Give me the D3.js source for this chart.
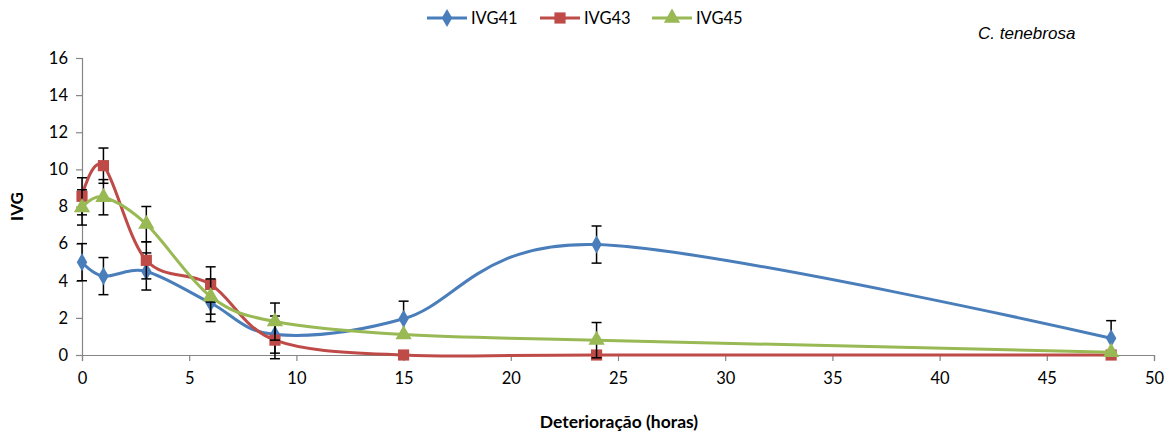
<!DOCTYPE html>
<html><head><meta charset="utf-8">
<script src="https://cdn.jsdelivr.net/npm/d3@7"></script>
<style>body{margin:0;background:#fff}svg{display:block}</style>
</head><body>
<svg id="c" width="1173" height="440"></svg>
<script>
const hours = [0, 1, 3, 6, 9, 15, 24, 48];
const ivg41 = [5.0, 4.25, 4.5, 2.8, 1.1, 1.95, 5.95, 0.9];
const ivg41Err = [1.0, 1.0, 1.0, 1.0, 1.0, 0.95, 1.0, 0.95];
const ivg43 = [8.55, 10.2, 5.1, 3.8, 0.8, 0.0, 0.0, 0.0];
const ivg43Err = [1.0, 0.95, 1.0, 0.95, 1.0, 0, 0, 0];
const ivg45 = [7.95, 8.5, 7.05, 3.15, 1.8, 1.1, 0.8, 0.15];
const ivg45Err = [0.95, 0.95, 0.95, 0.95, 1.0, 0, 0.95, 0];
const seriesNames = ["IVG41", "IVG43", "IVG45"];
const xTicks = [0, 5, 10, 15, 20, 25, 30, 35, 40, 45, 50];
const yTicks = [0, 2, 4, 6, 8, 10, 12, 14, 16];

const colors = ["#4a7ebb", "#be4b48", "#98b954"];
const shapes = [d3.symbolDiamond, d3.symbolSquare, d3.symbolTriangle];
const symSizes = [95, 125, 115];
const series = [
  {name: seriesNames[0], vals: ivg41, err: ivg41Err},
  {name: seriesNames[1], vals: ivg43, err: ivg43Err},
  {name: seriesNames[2], vals: ivg45, err: ivg45Err}
];

const svg = d3.select("#c");
const L = 82, R = 1154, T = 58, B = 355;
const x = d3.scaleLinear().domain([0, 50]).range([L, R]);
const y = d3.scaleLinear().domain([0, 16]).range([B, T]);
const font = "Lato, 'Open Sans', sans-serif";
const axisColor = "#868686";
const fs = 16.5;

// Y axis
const ya = svg.append("g").attr("transform", `translate(${L},0)`)
  .call(d3.axisLeft(y).tickValues(yTicks).tickSize(6).tickPadding(8));
ya.select(".domain").attr("stroke", axisColor).attr("stroke-width", 1.2);
ya.selectAll(".tick line").attr("stroke", axisColor).attr("stroke-width", 1.2);
ya.selectAll("text").attr("font-family", font).attr("font-size", fs).attr("fill", "#000");

// X axis
const xa = svg.append("g").attr("transform", `translate(0,${B})`)
  .call(d3.axisBottom(x).tickValues(xTicks).tickSize(6).tickPadding(11));
xa.select(".domain").attr("stroke", axisColor).attr("stroke-width", 1.2);
xa.selectAll(".tick line").attr("stroke", axisColor).attr("stroke-width", 1.2);
xa.selectAll("text").attr("font-family", font).attr("font-size", fs).attr("fill", "#000");

// axis titles
svg.append("text").attr("x", 619).attr("y", 428).attr("text-anchor", "middle")
  .attr("font-family", font).attr("font-weight", "bold").attr("font-size", 17.5).text("Deterioração (horas)");
svg.append("text").attr("transform", `translate(23,${(T + B) / 2}) rotate(-90)`).attr("text-anchor", "middle")
  .attr("font-family", font).attr("font-weight", "bold").attr("font-size", 17).text("IVG");

// title
svg.append("text").attr("x", 978).attr("y", 39).attr("font-family", "'Liberation Sans', Arial, sans-serif")
  .attr("font-style", "italic").attr("font-size", 17).text("C. tenebrosa");

const line = d3.line().x((d, i) => x(hours[i])).y(d => y(d)).curve(d3.curveCardinal.tension(0));

series.forEach((s, si) => {
  const g = svg.append("g");
  g.append("path").attr("d", line(s.vals)).attr("fill", "none")
    .attr("stroke", colors[si]).attr("stroke-width", 3);
  // error bars
  s.vals.forEach((v, i) => {
    const e = s.err[i];
    if (!e) return;
    const cx = x(hours[i]);
    const lo = Math.max(v - e, -0.25);
    g.append("line").attr("x1", cx).attr("x2", cx).attr("y1", y(v + e)).attr("y2", y(lo))
      .attr("stroke", "#000").attr("stroke-width", 1.5);
    [v + e, lo].forEach(ev => {
      g.append("line").attr("x1", cx - 5).attr("x2", cx + 5).attr("y1", y(ev)).attr("y2", y(ev))
        .attr("stroke", "#000").attr("stroke-width", 1.5);
    });
  });
  s.vals.forEach((v, i) => {
    g.append("path").attr("d", d3.symbol().type(shapes[si]).size(symSizes[si])())
      .attr("transform", `translate(${x(hours[i])},${y(v)})`).attr("fill", colors[si]);
  });
});

// legend
const legX = [427, 540, 652];
series.forEach((s, si) => {
  const g = svg.append("g").attr("transform", `translate(${legX[si]},18)`);
  g.append("line").attr("x1", 0).attr("x2", 40).attr("y1", 0).attr("y2", 0)
    .attr("stroke", colors[si]).attr("stroke-width", 3);
  g.append("path").attr("d", d3.symbol().type(shapes[si]).size(symSizes[si])())
    .attr("transform", "translate(20,0)").attr("fill", colors[si]);
  g.append("text").attr("x", 44).attr("y", 6).attr("font-family", font).attr("font-size", fs).text(s.name);
});
</script>
</body></html>
